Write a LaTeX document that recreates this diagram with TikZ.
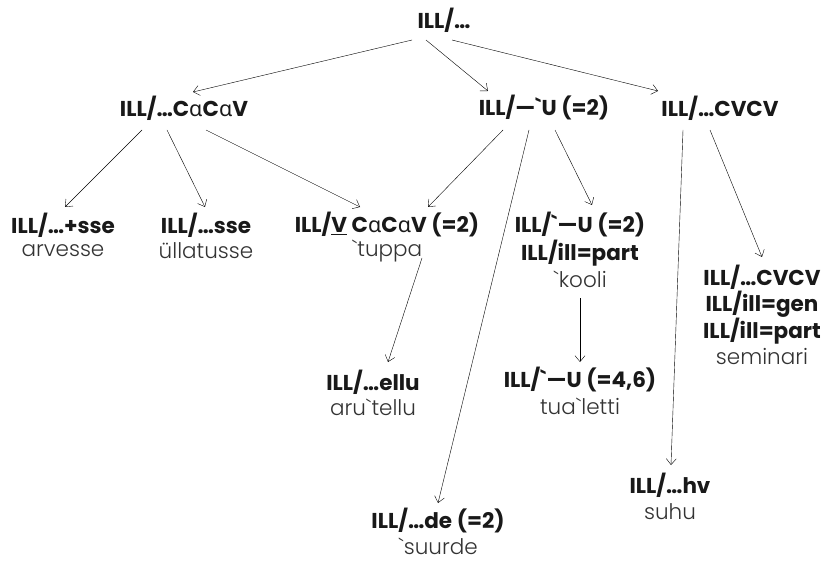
\documentclass[tikz,border=0pt]{standalone}
\usepackage{fontspec}
\setmainfont{Poppins}[Ligatures=TeXOff, UprightFont={* Light}, BoldFont={* Bold}]
\newfontfamily\grk{Noto Sans}
\usepackage{tikz}
\usetikzlibrary{arrows.meta}
\tikzset{>={Straight Barb[length=6pt,width=10pt]}}
\newcommand{\gr}{\char"60\relax}
\newcommand{\al}{{\grk α}}

\begin{document}
\begin{tikzpicture}[x=1pt,y=-1pt,
                    head/.style={font=\fontsize{21.5}{25}\selectfont\bfseries, text=black!90, inner sep=0pt},
                    ex/.style={font=\fontsize{21.5}{25}\selectfont, text=black!80, inner sep=0pt},
                    arr/.style={thin, black, ->},
                   ]

\useasboundingbox (0,0) rectangle (824,561);

% top and first level
\node[head] (root) at (444,20) {ILL/…};
\node[head] (A) at (184,108) {ILL/…C\al C\al V};
\node[head] (B) at (544,108) {ILL/—\gr U (=2)};
\node[head] (C) at (720,108) {ILL/…CVCV};

% second level
\node[head] (A1) at (63,225) {ILL/…+sse};
\node[ex]   (A1x) at (63,251) {arvesse};
\node[head] (A2) at (206,225) {ILL/…sse};
\node[ex]   (A2x) at (206,251) {üllatusse};
\node[head] (A3) at (387,225) {ILL/\underline{V} C\al C\al V (=2)};
\node[ex]   (A3x) at (387,251) {\gr tuppa};
\node[head] (B3) at (580,225) {ILL/\gr—U (=2)};
\node[head] (B3b) at (580,253) {ILL/ill=part};
\node[ex]   (B3x) at (580,279) {\gr kooli};
\node[head] (C2) at (762,277) {ILL/…CVCV};
\node[head] (C2b) at (762,304) {ILL/ill=gen};
\node[head] (C2c) at (762,331) {ILL/ill=part};
\node[ex]   (C2x) at (762,357) {seminari};

% lower levels
\node[head] (E) at (373,382) {ILL/…ellu};
\node[ex]   (Ex) at (373,407) {aru\gr tellu};
\node[head] (U) at (580,380) {ILL/\gr—U (=4,6)};
\node[ex]   (Ux) at (580,406) {tua\gr letti};
\node[head] (H) at (670,485) {ILL/…hv};
\node[ex]   (Hx) at (670,512) {suhu};
\node[head] (D) at (438,521) {ILL/…de (=2)};
\node[ex]   (Dx) at (438,546) {\gr suurde};

\draw[arr] ([shift={(-32,20)}]root.center) -- ([shift={(9,-16)}]A.center);
\draw[arr] ([shift={(-18,20)}]root.center) -- ([shift={(-56,-17)}]B.center);
\draw[arr] ([shift={(8,20)}]root.center) -- ([shift={(-62,-17)}]C.center);

\draw[arr] ([shift={(-42,22)}]A.center) -- ([shift={(2,-18)}]A1.center);
\draw[arr] ([shift={(-17,22)}]A.center) -- ([shift={(-1,-18)}]A2.center);
\draw[arr] ([shift={(22,22)}]A.center) -- ([shift={(-27,-18)}]A3.center);

\draw[arr] ([shift={(-41,22)}]B.center) -- ([shift={(41,-18)}]A3.center);
\draw[arr] ([shift={(-15,22)}]B.center) -- ([shift={(0,-18)}]D.center);
\draw[arr] ([shift={(11,22)}]B.center) -- ([shift={(12,-20)}]B3.center);

\draw[arr] ([shift={(-37,22)}]C.center) -- ([shift={(1,-20)}]H.center);
\draw[arr] ([shift={(-10,22)}]C.center) -- ([shift={(0,-20)}]C2.center);

\draw[arr] ([shift={(35,7)}]A3x.center) -- ([shift={(15,-20)}]E.center);
\draw[arr] ([shift={(0,19)}]B3x.center) -- ([shift={(0,-18)}]U.center);

\end{tikzpicture}
\end{document}
